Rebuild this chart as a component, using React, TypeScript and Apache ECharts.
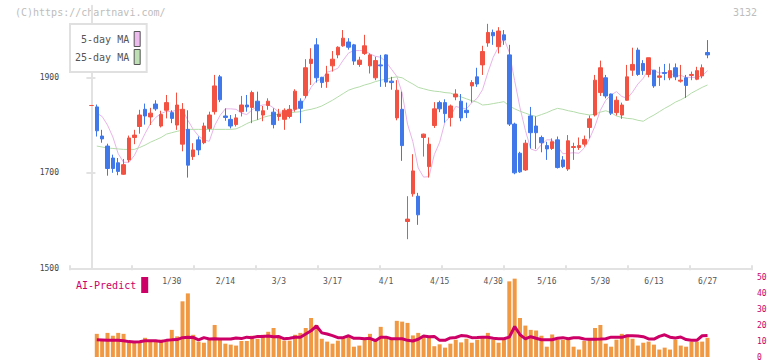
import React, { useEffect, useRef } from "react";
import * as echarts from "echarts";

const MONO = '"DejaVu Sans Mono", "Liberation Mono", monospace';
const RED = "#f15242";
const BLUE = "#4078ea";

const dates = [
  "1/8","1/9","1/10","1/14","1/15","1/16","1/17","1/20","1/21","1/22",
  "1/23","1/24","1/27","1/28","1/29","1/30","1/31","2/3","2/4","2/5",
  "2/6","2/7","2/10","2/12","2/13","2/14","2/17","2/18","2/19","2/20",
  "2/21","2/25","2/26","2/27","2/28","3/3","3/4","3/5","3/6","3/7",
  "3/10","3/11","3/12","3/13","3/14","3/17","3/18","3/19","3/21","3/24",
  "3/25","3/26","3/27","3/28","3/31","4/1","4/2","4/3","4/4","4/7",
  "4/8","4/9","4/10","4/11","4/14","4/15","4/16","4/17","4/18","4/21",
  "4/22","4/23","4/24","4/25","4/28","4/30","5/1","5/2","5/7","5/8",
  "5/9","5/12","5/13","5/14","5/15","5/16","5/19","5/20","5/21","5/22",
  "5/23","5/26","5/27","5/28","5/29","5/30","6/2","6/3","6/4","6/5",
  "6/6","6/9","6/10","6/11","6/12","6/13","6/16","6/17","6/18","6/19",
  "6/20","6/23","6/24","6/25","6/26","6/27",
];

const labelIndexes = [15, 25, 35, 45, 55, 65, 75, 85, 95, 105, 115];

// [open, close, low, high]
const candles = [
  [1841,1841,1841,1841],[1838,1788,1776,1843],[1777,1771,1763,1790],[1756,1709,1694,1761],
  [1731,1709,1700,1738],[1721,1703,1695,1731],[1697,1717,1696,1729],[1727,1773,1722,1778],
  [1774,1779,1760,1790],[1797,1821,1782,1832],[1833,1819,1801,1845],[1817,1825,1800,1836],
  [1844,1834,1830,1852],[1798,1822,1795,1830],[1831,1847,1814,1863],[1826,1814,1804,1831],
  [1800,1842,1790,1868],[1760,1833,1745,1846],[1791,1716,1690,1831],[1734,1748,1727,1762],
  [1769,1748,1737,1776],[1763,1798,1760,1805],[1793,1821,1786,1828],[1828,1882,1822,1905],
  [1901,1853,1848,1905],[1819,1816,1809,1835],[1812,1798,1793,1821],[1801,1815,1797,1823],
  [1828,1842,1818,1861],[1842,1838,1828,1863],[1837,1868,1804,1872],[1850,1830,1811,1870],
  [1821,1830,1808,1840],[1841,1850,1832,1856],[1827,1801,1793,1835],[1818,1823,1809,1834],
  [1812,1831,1790,1835],[1818,1833,1814,1842],[1833,1871,1828,1875],[1850,1835,1804,1856],
  [1862,1920,1856,1938],[1929,1938,1884,1961],[1968,1899,1889,1982],[1900,1889,1878,1901],
  [1891,1907,1878,1924],[1924,1938,1912,1955],[1947,1963,1940,1965],[1966,1982,1964,1999],
  [1974,1963,1958,1982],[1968,1934,1926,1970],[1927,1936,1922,1943],[1950,1966,1947,1989],
  [1924,1947,1908,1950],[1899,1935,1894,1943],[1926,1924,1880,1947],[1947,1890,1880,1948],
  [1892,1889,1874,1901],[1815,1873,1810,1894],[1833,1757,1725,1870],[1598,1603,1561,1651],
  [1656,1704,1650,1739],[1651,1612,1591,1658],[1774,1781,1734,1782],[1713,1760,1690,1774],
  [1799,1834,1794,1848],[1847,1834,1827,1851],[1847,1824,1805,1854],[1816,1840,1797,1843],
  [1859,1865,1852,1875],[1850,1815,1808,1865],[1831,1826,1815,1847],[1882,1889,1847,1894],
  [1901,1886,1880,1920],[1926,1954,1905,1966],[1972,1994,1964,2012],[1994,1987,1968,2000],
  [1964,1997,1950,2005],[1989,1978,1968,1999],[1947,1802,1798,1968],[1802,1700,1697,1805],
  [1741,1702,1700,1744],[1706,1762,1704,1769],[1819,1784,1751,1838],[1798,1784,1750,1818],
  [1774,1763,1743,1778],[1757,1750,1727,1765],[1751,1765,1748,1772],[1769,1711,1709,1776],
  [1727,1713,1710,1735],[1708,1767,1704,1779],[1753,1755,1727,1763],[1753,1757,1748,1774],
  [1760,1770,1755,1778],[1795,1813,1772,1820],[1821,1894,1818,1905],[1868,1920,1861,1935],
  [1899,1861,1856,1905],[1865,1825,1821,1866],[1826,1852,1820,1860],[1821,1842,1813,1847],
  [1852,1901,1851,1926],[1915,1927,1903,1962],[1957,1906,1903,1962],[1929,1914,1905,1936],
  [1906,1941,1900,1941],[1915,1882,1878,1915],[1900,1903,1882,1922],[1910,1908,1894,1928],
  [1899,1914,1894,1929],[1920,1901,1894,1929],[1892,1894,1889,1926],[1899,1883,1857,1905],
  [1904,1906,1894,1912],[1896,1914,1894,1922],[1903,1920,1898,1927],[1952,1947,1940,1978],
];

const ma5 = [
  null,1825,1818,1800,1775,1740,1722,1722,1736,1759,
  1782,1803,1816,1824,1829,1828,1832,1832,1810,1791,
  1777,1769,1766,1799,1820,1834,1834,1833,1825,1822,
  1832,1839,1842,1843,1836,1827,1827,1828,1832,1839,
  1858,1879,1893,1896,1911,1914,1919,1936,1951,1956,
  1956,1956,1949,1944,1942,1932,1917,1902,1867,1802,
  1765,1710,1691,1692,1738,1764,1807,1818,1839,1836,
  1834,1847,1856,1874,1910,1942,1964,1982,1952,1893,
  1836,1789,1750,1746,1759,1769,1769,1755,1740,1741,
  1742,1741,1752,1772,1798,1831,1852,1863,1870,1860,
  1856,1869,1886,1898,1918,1914,1909,1910,1910,1902,
  1904,1900,1900,1900,1903,1914,
];

const ma25 = [
  null,1756,1754,1752,1751,1750,1749,1749,1749,1753,
  1758,1764,1769,1774,1781,1784,1787,1789,1791,1791,
  1791,1791,1791,1791,1791,1791,1791,1792,1797,1803,
  1808,1811,1816,1819,1821,1823,1825,1826,1827,1828,
  1831,1833,1836,1840,1846,1852,1859,1866,1873,1877,
  1880,1884,1887,1891,1894,1896,1899,1901,1899,1892,
  1886,1879,1876,1873,1871,1870,1868,1867,1863,1859,
  1855,1851,1848,1842,1843,1845,1847,1849,1840,1834,
  1829,1825,1821,1818,1822,1826,1831,1835,1833,1830,
  1828,1825,1823,1821,1823,1827,1830,1826,1819,1816,
  1814,1813,1810,1808,1815,1821,1828,1835,1841,1848,
  1853,1859,1867,1873,1879,1884,
];

const volume = [
  null,14.6,10.9,15.2,13.4,15.2,14.6,10.1,9.4,10.1,
  12.1,10.1,10.1,10.9,10.1,17.1,13,35.1,40.1,14,
  9.7,9,11.5,20.2,10.9,8.4,7.8,7.2,10.1,10.1,
  13.4,11.5,14,15.9,18.3,13.4,10.3,10.3,14,15.2,
  18.3,24.6,20.2,11.5,9.7,8.4,10.3,12.1,13.4,6.5,
  7.2,12.1,14.6,11.5,19,12.5,11.5,22.8,22.3,21.5,
  13.6,15.2,13,13.2,6.8,8,5.9,8.4,10.9,9.2,
  11.5,9,10.9,12.1,15.2,10.9,9,11.5,47.7,49.4,
  24.6,19.8,17.1,16.7,13.4,6.5,14.2,10.9,10.9,11.5,
  6.5,4.7,10.1,10.9,18.3,20.2,8.4,6.5,10.9,14.6,
  14,11.5,7.2,9,9.7,7.8,4.7,5.9,4.7,10.9,
  7.2,6.5,9.7,9.7,9.7,12.1,
];

const aiPredict = [
  null,10.9,10.7,10.5,10.5,10.5,10.3,9.7,9.4,9.6,
  10.3,10.3,10.3,9.8,10.5,10.8,11,12.2,12.5,12.3,
  10.8,12.2,11.4,11.5,11.3,11.3,11.3,12,11.6,12.5,
  12.2,13,13,13.2,12.8,12.9,11.5,11.8,12.5,12.5,
  14.5,16.5,19.6,15.2,14.5,13.5,12.2,12.2,13.4,11.8,
  11.8,11.5,11.8,10.3,12.5,12.5,11.5,11.5,11.5,10.5,
  10.1,11.2,13.2,12.8,13,10.5,10.5,12,12.3,13.5,
  13.3,12.2,12.3,12.5,12.4,11.8,11.5,11.5,12.5,19.2,
  14,11.4,12.8,11.8,10.9,10.9,10.9,11.8,12.2,11.5,
  12.1,12.1,11.3,11.2,11.2,11.3,11.5,12.5,12.5,12.4,
  13.4,13.4,13.3,12.8,11.4,11.3,13,14,12.5,12,
  12.6,11,10.5,10.5,13.4,13.6,
];

const priceTicks = [1500, 1700, 1900];
const aiTicks = [0, 10, 20, 30, 40, 50];

const X_MIN = -4;
const X_MAX = 123.3;
const X_DIVS = 11;

const pairs = (arr: (number | null)[]) =>
  arr.map((v, i) => [i, v]).filter((d) => d[1] !== null);

export default function App() {
  const ref = useRef<HTMLDivElement>(null);
  useEffect(() => {
    const chart = echarts.init(ref.current!, null, { renderer: "svg" });
    const xTicks = Array.from({ length: X_DIVS + 1 }, (_, k) => X_MIN + (k * (X_MAX - X_MIN)) / X_DIVS);
    const axisGray = { color: "#e2e2e2", width: 2 };
    const option: any = {
      animation: false,
      backgroundColor: "#fff",
      textStyle: { fontFamily: MONO },
      grid: [
        { left: 70, right: 20, top: 5.7, bottom: 92.7 },
        { left: 70, right: 20, top: 277.7, bottom: 2.5 },
      ],
      xAxis: [
        {
          type: "value", gridIndex: 0, min: X_MIN, max: X_MAX, position: "bottom",
          axisLine: { show: true, lineStyle: axisGray },
          axisTick: { show: true, inside: true, length: 3, customValues: xTicks, lineStyle: axisGray },
          splitLine: { show: false },
          axisLabel: {
            show: true, customValues: labelIndexes,
            formatter: (v: number) => dates[Math.round(v)] ?? "",
            fontFamily: MONO, fontSize: 8, color: "#555", margin: 9,
          },
        },
        {
          type: "value", gridIndex: 0, min: X_MIN, max: X_MAX, position: "bottom",
          axisLine: { show: false },
          axisTick: { show: true, inside: false, length: 2, customValues: xTicks, lineStyle: axisGray },
          axisLabel: { show: false }, splitLine: { show: false },
        },
        { type: "value", gridIndex: 1, min: X_MIN, max: X_MAX, show: false },
      ],
      yAxis: [
        {
          type: "value", gridIndex: 0, min: 1500, max: 2050, position: "left",
          axisLine: { show: true, lineStyle: axisGray },
          axisTick: { show: true, length: 5, customValues: priceTicks, lineStyle: axisGray },
          splitLine: { show: false },
          axisLabel: {
            customValues: priceTicks, formatter: (v: number) => String(v),
            fontFamily: MONO, fontSize: 8, color: "#444", margin: 11,
          },
        },
        {
          type: "value", gridIndex: 0, min: 1500, max: 2050, position: "left",
          axisLine: { show: false },
          axisTick: { show: true, inside: true, length: 4, customValues: priceTicks, lineStyle: axisGray },
          axisLabel: { show: false }, splitLine: { show: false },
        },
        {
          type: "value", gridIndex: 1, min: 0, max: 50, position: "right",
          axisLine: { show: false }, axisTick: { show: false }, splitLine: { show: false },
          axisLabel: {
            customValues: aiTicks, formatter: (v: number) => String(v),
            color: "#cc0066", fontFamily: MONO, fontSize: 8, margin: 5,
          },
        },
      ],
      legend: [
        {
          orient: "vertical", left: 70, top: 24, align: "right",
          padding: [7, 6, 7, 5], itemGap: 2, itemWidth: 6, itemHeight: 15,
          borderColor: "#e0e0e0", borderWidth: 2, backgroundColor: "#fff",
          selectedMode: false,
          textStyle: { fontFamily: MONO, fontSize: 10, color: "#555" },
          formatter: (n: string) => n.padStart(9, " "),
          data: [
            { name: "5-day MA", icon: "rect", itemStyle: { color: "#eebbee", borderColor: "#555", borderWidth: 1 } },
            { name: "25-day MA", icon: "rect", itemStyle: { color: "#bddfb3", borderColor: "#555", borderWidth: 1 } },
          ],
        },
        {
          orient: "horizontal", left: 71, top: 272, align: "right",
          padding: 5, itemWidth: 7, itemHeight: 16, selectedMode: false,
          textStyle: { fontFamily: MONO, fontSize: 10, color: "#cc0066" },
          data: [{ name: "AI-Predict", icon: "rect", itemStyle: { color: "#cc0066", borderWidth: 0 } }],
        },
      ],
      graphic: [
        { type: "text", left: 15, top: 7, style: { text: "(C)https://chartnavi.com/", font: `10px ${MONO}`, fill: "#bdbdbd" } },
        { type: "text", right: 15, top: 7, style: { text: "3132", font: `10px ${MONO}`, fill: "#bdbdbd" } },
      ],
      series: [
        {
          name: "5-day MA", type: "line", xAxisIndex: 0, yAxisIndex: 0,
          data: pairs(ma5), showSymbol: false, symbol: "none", silent: true,
          lineStyle: { color: "#e8b4e8", width: 1 }, itemStyle: { color: "#e8b4e8" }, z: 2,
        },
        {
          name: "25-day MA", type: "line", xAxisIndex: 0, yAxisIndex: 0,
          data: pairs(ma25), showSymbol: false, symbol: "none", silent: true,
          lineStyle: { color: "#b4dcaa", width: 1 }, itemStyle: { color: "#b4dcaa" }, z: 2,
        },
        {
          name: "price", type: "candlestick", xAxisIndex: 0, yAxisIndex: 0,
          dimensions: ["idx", "open", "close", "lowest", "highest"],
          encode: { x: "idx", y: ["open", "close", "lowest", "highest"] },
          data: candles.map((c, i) => [i, c[0], c[1], c[2], c[3]]),
          barWidth: 4,
          itemStyle: { color: RED, color0: BLUE, borderColor: RED, borderColor0: BLUE, borderColorDoji: RED, borderWidth: 1 },
          z: 3,
        },
        {
          name: "volume", type: "bar", xAxisIndex: 2, yAxisIndex: 2,
          data: pairs(volume), barWidth: 4, itemStyle: { color: "#f19842" }, z: 2, silent: true,
        },
        {
          name: "AI-Predict", type: "line", xAxisIndex: 2, yAxisIndex: 2,
          data: pairs(aiPredict), showSymbol: false, symbol: "none", silent: true,
          lineStyle: { color: "#cc0066", width: 3 }, itemStyle: { color: "#cc0066" }, z: 3,
        },
      ],
    };
    chart.setOption(option);
    return () => chart.dispose();
  }, []);
  return (
    <div
      ref={ref}
      style={{ position: "fixed", left: 0, top: 0, width: 772, height: 361, background: "#fff" }}
    />
  );
}
